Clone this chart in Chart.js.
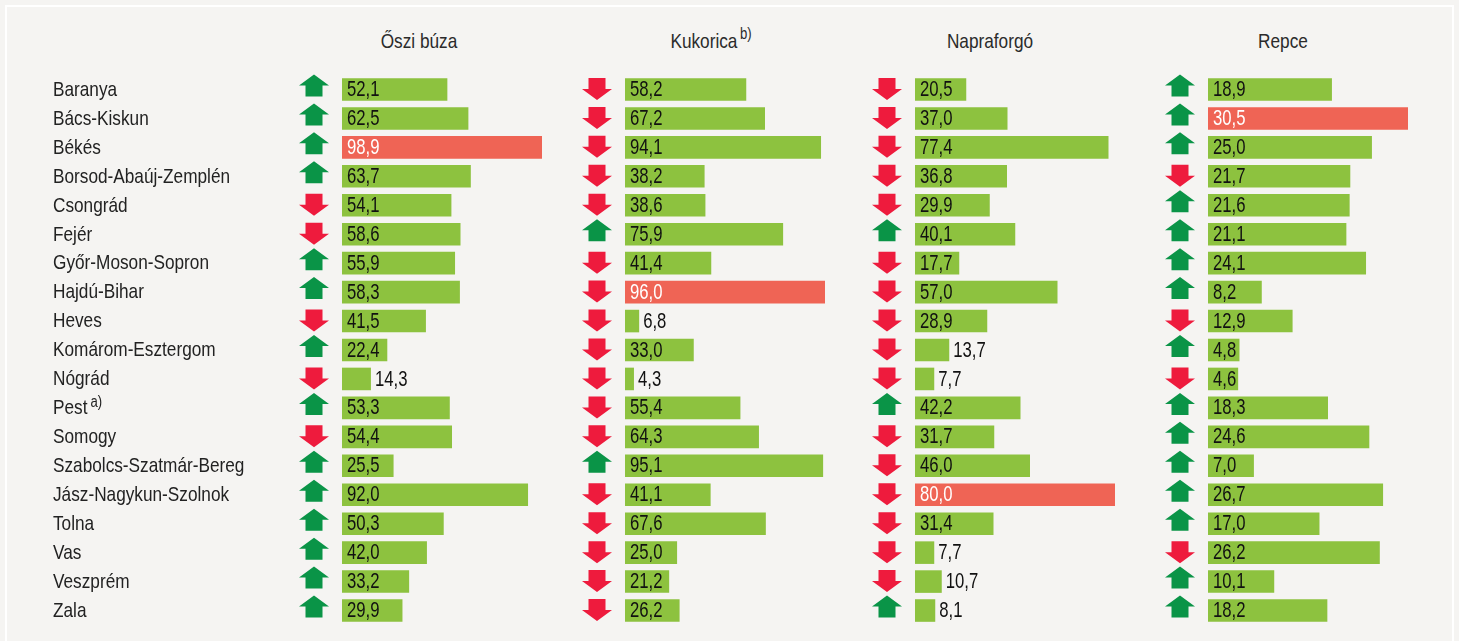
<!DOCTYPE html>
<html lang="hu">
<head>
<meta charset="utf-8">
<script src="https://cdn.jsdelivr.net/npm/chart.js@4.4.1/dist/chart.umd.min.js"></script>
<style>
  html, body { margin: 0; padding: 0; background: #f5f4f2; }
  #lap { position: relative; width: 1459px; height: 641px; overflow: hidden; background: #f5f4f2;
         font-family: 'Liberation Sans', Arial, sans-serif; }
  #keret { position: absolute; left: 5px; top: 5px; width: 1445px; height: 650px;
           border: 2px solid #ffffff; }
  canvas { position: absolute; top: 0; }
  .fejlec { position: absolute; top: 29px; width: 300px; text-align: center;
            font-size: 21px; color: #2b2b2b; transform: scaleX(0.82); white-space: nowrap; }
  .fejlec sup { font-size: 16px; position: relative; top: -4px; vertical-align: top; margin-left: 3px; }
</style>
</head>
<body>
<div id="lap">
  <div id="keret"></div>
  <div class="fejlec" style="left:269px">Őszi búza</div>
  <div class="fejlec" style="left:561px">Kukorica<sup>b)</sup></div>
  <div class="fejlec" style="left:840px">Napraforgó</div>
  <div class="fejlec" style="left:1133px">Repce</div>
  <canvas id="c1" width="580" height="641" style="left:0px"></canvas>
  <canvas id="c2" width="290" height="641" style="left:565px"></canvas>
  <canvas id="c3" width="290" height="641" style="left:855px"></canvas>
  <canvas id="c4" width="290" height="641" style="left:1148px"></canvas>
</div>
<script>
'use strict';

const megyek = ['Baranya', 'Bács-Kiskun', 'Békés', 'Borsod-Abaúj-Zemplén', 'Csongrád', 'Fejér',
  'Győr-Moson-Sopron', 'Hajdú-Bihar', 'Heves', 'Komárom-Esztergom', 'Nógrád', 'Pest', 'Somogy',
  'Szabolcs-Szatmár-Bereg', 'Jász-Nagykun-Szolnok', 'Tolna', 'Vas', 'Veszprém', 'Zala'];
const labjegyzet = { 'Pest': 'a)' };

// értékek
const oszibuza = [52.1, 62.5, 98.9, 63.7, 54.1, 58.6, 55.9, 58.3, 41.5, 22.4, 14.3, 53.3, 54.4, 25.5, 92.0, 50.3, 42.0, 33.2, 29.9];
const kukorica = [58.2, 67.2, 94.1, 38.2, 38.6, 75.9, 41.4, 96.0, 6.8, 33.0, 4.3, 55.4, 64.3, 95.1, 41.1, 67.6, 25.0, 21.2, 26.2];
const napraforgo = [20.5, 37.0, 77.4, 36.8, 29.9, 40.1, 17.7, 57.0, 28.9, 13.7, 7.7, 42.2, 31.7, 46.0, 80.0, 31.4, 7.7, 10.7, 8.1];
const repce = [18.9, 30.5, 25.0, 21.7, 21.6, 21.1, 24.1, 8.2, 12.9, 4.8, 4.6, 18.3, 24.6, 7.0, 26.7, 17.0, 26.2, 10.1, 18.2];

// irány: 1 = nőtt (zöld fel), -1 = csökkent (piros le)
const oszibuzaIrany = [1, 1, 1, 1, -1, -1, 1, 1, -1, 1, -1, 1, -1, 1, 1, 1, 1, 1, 1];
const kukoricaIrany = [-1, -1, -1, -1, -1, 1, -1, -1, -1, -1, -1, -1, -1, 1, -1, -1, -1, -1, -1];
const napraforgoIrany = [-1, -1, -1, -1, -1, 1, -1, -1, -1, -1, -1, 1, -1, -1, -1, -1, -1, -1, 1];
const repceIrany = [1, 1, 1, -1, 1, 1, 1, 1, -1, 1, -1, 1, 1, 1, 1, 1, -1, 1, 1];

const BETU = "'Liberation Sans', Arial, sans-serif";
const ZOLD = '#8dc23f';
const PIROS = '#ef6455';
const NYIL_FEL = '#0a9447';
const NYIL_LE = '#ee1b3d';

const szam = v => v.toFixed(1).replace('.', ',');

// keskenyített szöveg, visszaadja a szélességet
function szoveg(ctx, txt, x, y, px, szukit, szin) {
    ctx.save();
    ctx.font = px + 'px ' + BETU;
    ctx.fillStyle = szin;
    ctx.textBaseline = 'middle';
    ctx.textAlign = 'left';
    ctx.translate(x, y);
    ctx.scale(szukit, 1);
    ctx.fillText(txt, 0, 0);
    const w = ctx.measureText(txt).width * szukit;
    ctx.restore();
    return w;
}

function szelesseg(ctx, txt, px, szukit) {
    ctx.save();
    ctx.font = px + 'px ' + BETU;
    const w = ctx.measureText(txt).width * szukit;
    ctx.restore();
    return w;
}

// nyilak a sávok előtt
const nyilPlugin = {
    id: 'nyilak',
    afterDatasetsDraw(chart, args, opts) {
        const ctx = chart.ctx;
        const y = chart.scales.y;
        const cx = chart.chartArea.left - 28;
        opts.irany.forEach((ir, i) => {
            const cy = y.getPixelForValue(i) + (ir > 0 ? -4 : -0.5);
            const w = 30, sw = 17, h = 22, fej = 11;
            ctx.save();
            ctx.fillStyle = ir > 0 ? NYIL_FEL : NYIL_LE;
            ctx.beginPath();
            if (ir > 0) {
                const t = cy - h / 2;
                ctx.moveTo(cx, t);
                ctx.lineTo(cx + w / 2, t + fej);
                ctx.lineTo(cx + sw / 2, t + fej);
                ctx.lineTo(cx + sw / 2, t + h);
                ctx.lineTo(cx - sw / 2, t + h);
                ctx.lineTo(cx - sw / 2, t + fej);
                ctx.lineTo(cx - w / 2, t + fej);
            } else {
                const b = cy + h / 2;
                ctx.moveTo(cx, b);
                ctx.lineTo(cx + w / 2, b - fej);
                ctx.lineTo(cx + sw / 2, b - fej);
                ctx.lineTo(cx + sw / 2, b - h);
                ctx.lineTo(cx - sw / 2, b - h);
                ctx.lineTo(cx - sw / 2, b - fej);
                ctx.lineTo(cx - w / 2, b - fej);
            }
            ctx.closePath();
            ctx.fill();
            ctx.restore();
        });
    }
};

// értékcímkék a sávokon
const cimkePlugin = {
    id: 'cimkek',
    afterDatasetsDraw(chart) {
        const ctx = chart.ctx;
        const meta = chart.getDatasetMeta(0);
        const adat = chart.data.datasets[0].data;
        const max = Math.max(...adat);
        meta.data.forEach((bar, i) => {
            const txt = szam(adat[i]);
            const tw = szelesseg(ctx, txt, 22, 0.76);
            const hossz = bar.x - bar.base;
            if (hossz >= tw + 6) {
                szoveg(ctx, txt, bar.base + 5, bar.y + 0.5, 22, 0.76, adat[i] === max ? '#ffffff' : '#111111');
            } else {
                szoveg(ctx, txt, bar.x + 4, bar.y + 0.5, 22, 0.76, '#111111');
            }
        });
    }
};

// megyenevek (csak az első panelen), lábjegyzet jellel
const megyePlugin = {
    id: 'megyek',
    afterDraw(chart, args, opts) {
        if (!opts.mutat) return;
        const ctx = chart.ctx;
        const y = chart.scales.y;
        megyek.forEach((m, i) => {
            const py = y.getPixelForValue(i) + 0.5;
            const w = szoveg(ctx, m, y.left, py, 21, 0.82, '#222222');
            if (labjegyzet[m]) {
                szoveg(ctx, labjegyzet[m], y.left + w + 3, py - 6, 16, 0.82, '#222222');
            }
        });
    }
};

function crearPanel(id, ertekek, irany, elso) {
    const max = Math.max(...ertekek);
    return new Chart(document.getElementById(id).getContext('2d'), {
        type: 'bar',
        data: {
            labels: megyek,
            datasets: [{
                data: ertekek,
                backgroundColor: ertekek.map(v => v === max ? PIROS : ZOLD),
                borderWidth: 0,
                barPercentage: 0.78,
                categoryPercentage: 1
            }]
        },
        options: {
            indexAxis: 'y',
            responsive: false,
            animation: false,
            devicePixelRatio: 1,
            layout: { padding: { left: elso ? 53 : 60, right: elso ? 38 : 30, top: 75, bottom: 16 } },
            scales: {
                x: { display: false, min: 0, max: max },
                y: {
                    display: false,
                    grid: { display: false },
                    afterFit: s => { if (elso) s.width = 289; }
                }
            },
            plugins: {
                legend: { display: false },
                tooltip: { enabled: false },
                nyilak: { irany: irany },
                megyek: { mutat: elso }
            }
        },
        plugins: [nyilPlugin, cimkePlugin, megyePlugin]
    });
}

crearPanel('c1', oszibuza, oszibuzaIrany, true);
crearPanel('c2', kukorica, kukoricaIrany, false);
crearPanel('c3', napraforgo, napraforgoIrany, false);
crearPanel('c4', repce, repceIrany, false);
</script>
</body>
</html>
